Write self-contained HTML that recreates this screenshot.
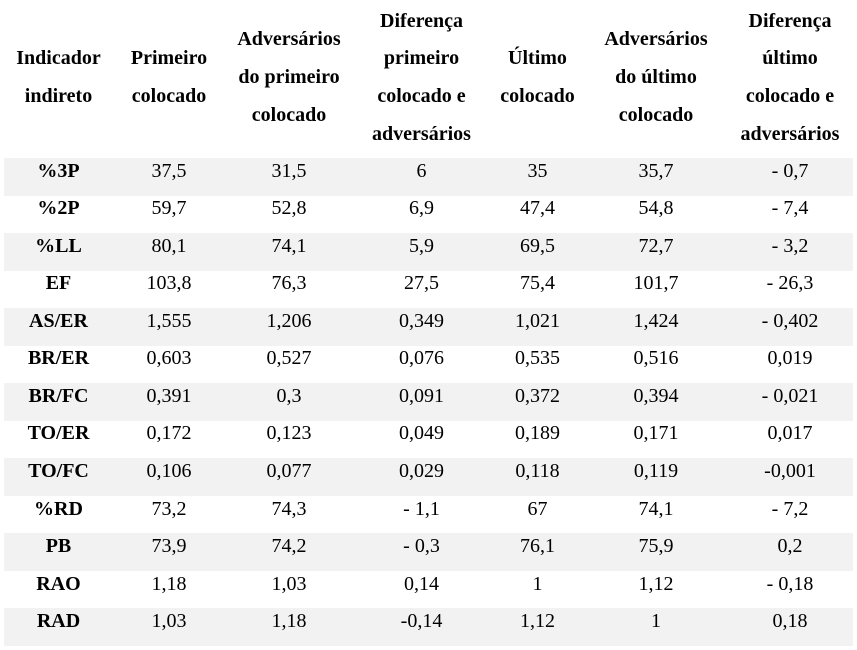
<!DOCTYPE html>
<html><head><meta charset="utf-8"><style>
html,body{margin:0;padding:0;background:#fff;width:857px;height:650px;overflow:hidden}
table{position:absolute;left:4px;top:0;border-collapse:collapse;table-layout:fixed;width:849px;font-family:"Liberation Serif","Tinos","Times New Roman","DejaVu Serif",serif;font-size:20px;color:#000}
th{font-weight:bold;height:158px;line-height:37.7px;padding:0 0 2px 0;text-align:center;vertical-align:middle;box-sizing:border-box}
td{height:37.54px;padding:0 0 12px 0;text-align:center;vertical-align:middle;line-height:20px;box-sizing:border-box}
td:first-child{font-weight:bold}
tr.g td{background:#f2f2f2}
</style></head><body>
<table>
<colgroup><col style="width:109px"><col style="width:112px"><col style="width:128px"><col style="width:137px"><col style="width:95px"><col style="width:142px"><col style="width:126px"></colgroup>
<thead><tr>
<th>Indicador<br>indireto</th>
<th>Primeiro<br>colocado</th>
<th>Adversários<br>do primeiro<br>colocado</th>
<th>Diferença<br>primeiro<br>colocado e<br>adversários</th>
<th>Último<br>colocado</th>
<th>Adversários<br>do último<br>colocado</th>
<th>Diferença<br>último<br>colocado e<br>adversários</th>
</tr></thead>
<tbody>
<tr class="g"><td>%3P</td><td>37,5</td><td>31,5</td><td>6</td><td>35</td><td>35,7</td><td>- 0,7</td></tr>
<tr><td>%2P</td><td>59,7</td><td>52,8</td><td>6,9</td><td>47,4</td><td>54,8</td><td>- 7,4</td></tr>
<tr class="g"><td>%LL</td><td>80,1</td><td>74,1</td><td>5,9</td><td>69,5</td><td>72,7</td><td>- 3,2</td></tr>
<tr><td>EF</td><td>103,8</td><td>76,3</td><td>27,5</td><td>75,4</td><td>101,7</td><td>- 26,3</td></tr>
<tr class="g"><td>AS/ER</td><td>1,555</td><td>1,206</td><td>0,349</td><td>1,021</td><td>1,424</td><td>- 0,402</td></tr>
<tr><td>BR/ER</td><td>0,603</td><td>0,527</td><td>0,076</td><td>0,535</td><td>0,516</td><td>0,019</td></tr>
<tr class="g"><td>BR/FC</td><td>0,391</td><td>0,3</td><td>0,091</td><td>0,372</td><td>0,394</td><td>- 0,021</td></tr>
<tr><td>TO/ER</td><td>0,172</td><td>0,123</td><td>0,049</td><td>0,189</td><td>0,171</td><td>0,017</td></tr>
<tr class="g"><td>TO/FC</td><td>0,106</td><td>0,077</td><td>0,029</td><td>0,118</td><td>0,119</td><td>-0,001</td></tr>
<tr><td>%RD</td><td>73,2</td><td>74,3</td><td>- 1,1</td><td>67</td><td>74,1</td><td>- 7,2</td></tr>
<tr class="g"><td>PB</td><td>73,9</td><td>74,2</td><td>- 0,3</td><td>76,1</td><td>75,9</td><td>0,2</td></tr>
<tr><td>RAO</td><td>1,18</td><td>1,03</td><td>0,14</td><td>1</td><td>1,12</td><td>- 0,18</td></tr>
<tr class="g"><td>RAD</td><td>1,03</td><td>1,18</td><td>-0,14</td><td>1,12</td><td>1</td><td>0,18</td></tr>
</tbody></table>
</body></html>
